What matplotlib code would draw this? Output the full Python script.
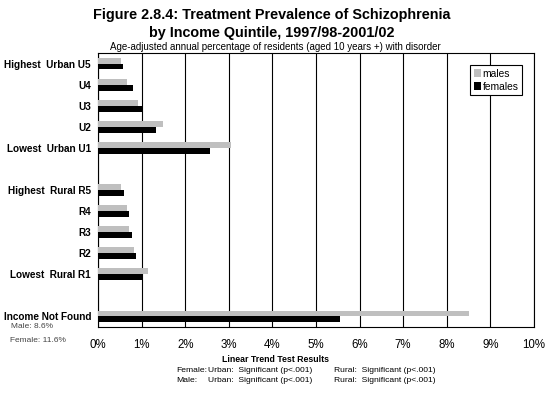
import numpy as np
import matplotlib
matplotlib.use("Agg")
import matplotlib.pyplot as plt

plt.rcParams['font.family'] = ['Liberation Sans', 'DejaVu Sans']

# categories from top to bottom, blank strings are the gaps
categories = ["Highest  Urban U5", "U4", "U3", "U2", "Lowest  Urban U1", "",
              "Highest  Rural R5", "R4", "R3", "R2", "Lowest  Rural R1", "",
              "Income Not Found"]
males = [0.53, 0.67, 0.92, 1.48, 3.04, np.nan,
         0.53, 0.67, 0.71, 0.83, 1.15, np.nan, 8.5]
females = [0.58, 0.81, 1.0, 1.34, 2.57, np.nan,
           0.60, 0.71, 0.77, 0.87, 1.0, np.nan, 5.55]
xticks = [0, 1, 2, 3, 4, 5, 6, 7, 8, 9, 10]
xticklabels = ["0%", "1%", "2%", "3%", "4%", "5%", "6%", "7%", "8%", "9%", "10%"]

fig = plt.figure(figsize=(5.5, 3.95), dpi=100)
ax = fig.add_axes([98/550, 1 - 327/395, (534-98)/550, (327-53)/395])

y = np.arange(len(categories))
h = 0.28
ax.barh(y - h/2, males, height=h, color="#bfbfbf", label="males", zorder=3)
ax.barh(y + h/2, females, height=h, color="black", label="females", zorder=3)

ax.set_ylim(len(categories) - 0.5, -0.5)
ax.set_xlim(0, 10)
ax.set_yticks(y)
ax.set_yticklabels(categories, fontweight="bold", fontsize=7.2)
ax.set_xticks(xticks)
ax.set_xticklabels(xticklabels, fontsize=8.3)
ax.tick_params(axis="y", length=0, pad=5)
ax.tick_params(axis="x", length=0, pad=9)
ax.grid(axis="x", color="black", linewidth=0.8, zorder=0)
for s in ax.spines.values():
    s.set_linewidth(0.8)

leg = ax.legend(loc="upper right", bbox_to_anchor=(0.985, 0.975), fontsize=7.4,
                frameon=True, fancybox=False, handlelength=0.7, handleheight=0.7,
                handletextpad=0.15, borderpad=0.35, labelspacing=0.3)
leg.get_frame().set_edgecolor("black")
leg.get_frame().set_linewidth(0.8)
leg.get_frame().set_alpha(1)

fig.text(272/550, 1 - 15/395, "Figure 2.8.4: Treatment Prevalence of Schizophrenia",
         ha="center", va="center", fontsize=10.4, fontweight="bold")
fig.text(272/550, 1 - 33/395, "by Income Quintile, 1997/98-2001/02",
         ha="center", va="center", fontsize=10.4, fontweight="bold")
fig.text(275/550, 1 - 46.5/395,
         "Age-adjusted annual percentage of residents (aged 10 years +) with disorder",
         ha="center", va="center", fontsize=7.0)

fig.text(11/550, 1 - 327/395, "Male: 8.6%", ha="left", va="center", fontsize=6, color="#444444")
fig.text(10/550, 1 - 340/395, "Female: 11.6%", ha="left", va="center", fontsize=6, color="#444444")

fs = 6.1
fig.text(276/550, 1 - 360/395, "Linear Trend Test Results", ha="center", va="center",
         fontsize=6.3, fontweight="bold")
fig.text(176/550, 1 - 370/395, "Female:", ha="left", va="center", fontsize=fs)
fig.text(208/550, 1 - 370/395, "Urban:  Significant (p<.001)", ha="left", va="center", fontsize=fs)
fig.text(334/550, 1 - 370/395, "Rural:  Significant (p<.001)", ha="left", va="center", fontsize=fs)
fig.text(176/550, 1 - 380/395, "Male:", ha="left", va="center", fontsize=fs)
fig.text(208/550, 1 - 380/395, "Urban:  Significant (p<.001)", ha="left", va="center", fontsize=fs)
fig.text(334/550, 1 - 380/395, "Rural:  Significant (p<.001)", ha="left", va="center", fontsize=fs)

fig.savefig("out.png", dpi=100)
